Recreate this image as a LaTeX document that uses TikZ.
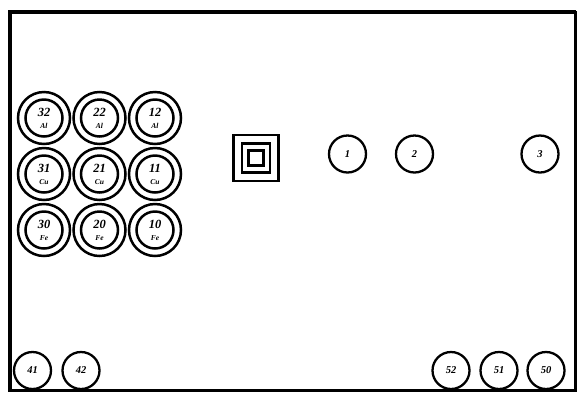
\documentclass[tikz,border=0pt]{standalone}
\usepackage{fontspec}
\setmainfont{Liberation Serif}
\begin{document}
\begin{tikzpicture}[x=1pt,y=-1pt,
  ring/.style={circle,draw,line width=2.5pt,minimum size=52pt,inner sep=0pt},
  core/.style={circle,draw,line width=2.5pt,minimum size=37pt,inner sep=0pt},
  port/.style={circle,draw,line width=2.3pt,minimum size=37pt,inner sep=0pt,font=\bfseries\itshape\fontsize{10.5}{10.5}\selectfont},
  num/.style={font=\bfseries\itshape\fontsize{12.5}{12.5}\selectfont,inner sep=0pt},
  elem/.style={font=\bfseries\itshape\fontsize{7.5}{7.5}\selectfont,inner sep=0pt},
  sq/.style={draw,line width=2.2pt,inner sep=0pt}]
\useasboundingbox (0,0) rectangle (578,392);
\fill[white] (0,0) rectangle (578,392);
\draw[line width=2.5pt] (9.5,12) rectangle (575.5,390.5);
\draw[line width=4pt] (9.5,390.5) -- (9.5,12) -- (575.5,12);
% grid of coils
\foreach \c/\x in {3/44,2/99.5,1/155}{
  \foreach \r/\y/\e in {2/118/Al,1/174/Cu,0/230/Fe}{
    \node[ring] (o\c\r) at (\x,\y) {};
    \node[core] (i\c\r) at (\x,\y) {};
    \node[num] (n\c\r) at (\x,\y-6) {\c\r};
    \node[elem] (e\c\r) at (\x,\y+8) {\e};
  }
}
% concentric squares
\node[sq,minimum width=45pt,minimum height=46pt] (sqa) at (256,158) {};
\node[sq,minimum width=28pt,minimum height=29pt] (sqb) at (256,158) {};
\node[sq,minimum width=15pt,minimum height=15pt] (sqc) at (256,158) {};
% small circles
\node[port] (p1) at (347.5,154) {1};
\node[port] (p2) at (414.5,154) {2};
\node[port] (p3) at (540,154) {3};
\node[port] (p41) at (32.5,370.5) {41};
\node[port] (p42) at (81,370.5) {42};
\node[port] (p52) at (451,370.5) {52};
\node[port] (p51) at (499,370.5) {51};
\node[port] (p50) at (546,370.5) {50};
\end{tikzpicture}
\end{document}
